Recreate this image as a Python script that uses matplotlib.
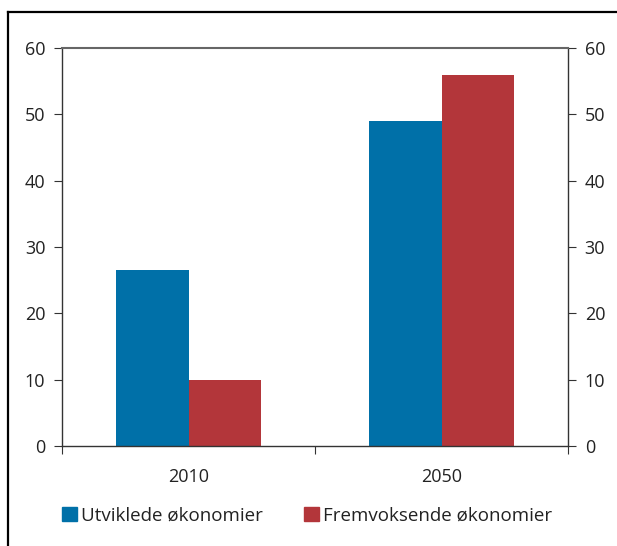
import matplotlib.pyplot as plt
from matplotlib.lines import Line2D
from matplotlib.patches import Patch

years = ["2010", "2050"]
utviklede = [26.5, 49.0]
fremvoksende = [10.0, 56.0]
labels = ["Utviklede økonomier", "Fremvoksende økonomier"]
blue = "#0070a8"
red = "#b3363a"

plt.rcParams["font.family"] = ["Open Sans", "DejaVu Sans"]
plt.rcParams["font.size"] = 13

fig = plt.figure(figsize=(6.17, 5.46), dpi=100)
ax = fig.add_axes([0.1005, 0.1832, 0.8201, 0.7289])

w = 0.285
centers = [0.5, 1.5]
ax.bar([c - w / 2 for c in centers], utviklede, width=w, color=blue, label=labels[0])
ax.bar([c + w / 2 for c in centers], fremvoksende, width=w, color=red, label=labels[1])

ax.set_xlim(0, 2)
ax.set_ylim(0, 60)
ax.set_yticks(range(0, 61, 10))
ax.set_xticks([0, 1, 2])
ax.set_xticklabels([])
ax.set_xticks(centers, minor=True)
ax.set_xticklabels(years, minor=True)
ax.tick_params(axis="x", which="minor", length=0, pad=16, colors="#222222")
ax.tick_params(axis="x", which="major", length=6, direction="out", color="#333333")
ax.tick_params(axis="y", length=6, direction="out", color="#333333", labelcolor="#222222",
               left=True, right=True, labelleft=True, labelright=True, pad=6)

for s in ["left", "right", "bottom"]:
    ax.spines[s].set_color("#333333")
    ax.spines[s].set_linewidth(1.0)
ax.spines["top"].set_color("#666666")
ax.spines["top"].set_linewidth(1.5)

handles = [Patch(color=blue), Patch(color=red)]
fig.legend(handles, labels, loc="center", bbox_to_anchor=(0.4976, 0.056), ncol=2,
           frameon=False, handlelength=0.8, handleheight=0.8, handletextpad=0.2,
           columnspacing=2.2, fontsize=13.5, labelcolor="#222222")

# outer frame (top and left edges)
fig.add_artist(Line2D([8 / 617, 1.0], [1 - 12 / 546, 1 - 12 / 546], color="black", lw=1.6,
                      transform=fig.transFigure))
fig.add_artist(Line2D([8 / 617, 8 / 617], [0, 1 - 12 / 546], color="black", lw=1.6,
                      transform=fig.transFigure))

fig.savefig("out.png", dpi=100)
